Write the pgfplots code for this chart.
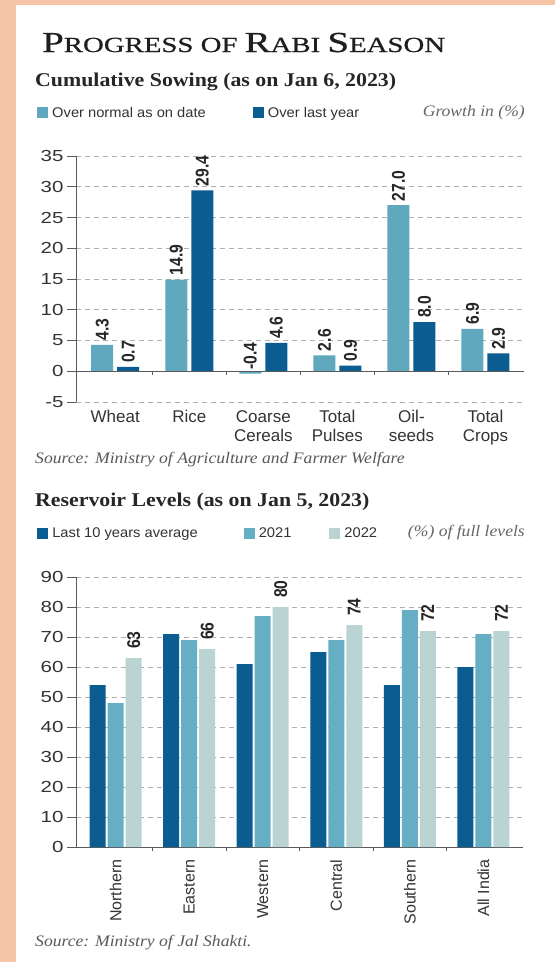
\documentclass[border=0pt]{standalone}
\usepackage{fontspec}
\usepackage{pgfplots}
\pgfplotsset{compat=1.18}
\setmainfont{Liberation Serif}
\newfontfamily\sansf{Liberation Sans}
\newfontfamily\legf[FakeStretch=1.05]{Liberation Sans}
\newfontfamily\tickf[FakeStretch=1.28]{Liberation Sans}
\newfontfamily\condf[FakeStretch=0.85]{Liberation Sans}
\newfontfamily\titlef[FakeStretch=1.34, FakeBold=0.8]{Liberation Serif}
\newfontfamily\subf[FakeStretch=1.12]{Liberation Serif}
\newfontfamily\srcf[FakeStretch=1.1]{Liberation Serif}
\definecolor{peach}{HTML}{F6C4A6}
\definecolor{lteal}{HTML}{5FA8BD}
\definecolor{dblue}{HTML}{0B5C91}
\definecolor{mteal}{HTML}{66AEC3}
\definecolor{pale}{HTML}{BAD4D4}
\definecolor{txt}{HTML}{333333}
\definecolor{axgray}{HTML}{5A5A5A}
\definecolor{gridgray}{HTML}{B0B0B0}

\pgfplotstableread{
x normal last
0 4.3 0.7
1 14.9 29.4
2 -0.4 4.6
3 2.6 0.9
4 27.0 8.0
5 6.9 2.9
}\sowing

\pgfplotstableread{
x avg y2021 y2022
0 54 48 63
1 71 69 66
2 61 77 80
3 65 69 74
4 54 79 72
5 60 71 72
}\reservoir

\pgfplotsset{
  commonax/.style={
    scale only axis, enlargelimits=false,
    axis y line*=left, axis x line*=bottom,
    axis line style={-},
    y axis line style={draw=axgray, line width=0.9pt},
    tick align=outside, major tick length=9pt, minor tick length=4pt,
    major y tick style={draw=axgray, line width=0.9pt},
    major x tick style={draw=none},
    ymajorgrids,
    major grid style={dash pattern=on 5pt off 4pt, draw=gridgray, line width=0.8pt},
    /pgf/number format/assume math mode=true,
    yticklabel style={font=\tickf\fontsize{16}{16}\selectfont, text=txt},
    xticklabel style={font=\sansf\fontsize{17}{19}\selectfont, text=txt},
    legend style={draw=none, fill=none, inner sep=0pt, font=\legf\fontsize{14}{14}\selectfont, text=txt,
      /tikz/every odd column/.append style={column sep=2pt}},
  },
  sqlegend/.style={
    legend image code/.code={\fill[##1, draw=none] (0pt,-5.5pt) rectangle (11pt,5.5pt);},
  }
}

\begin{document}
\begin{tikzpicture}
\fill[peach] (0pt,0pt) rectangle (555pt,-962pt);
\fill[white] (16pt,-5pt) rectangle (555pt,-962pt);
\useasboundingbox (0pt,0pt) rectangle (555pt,-962pt);

\node[anchor=base west, inner sep=0pt, text=black!88] at (42pt,-52pt)
 {\titlef{\fontsize{29}{29}\selectfont P}{\fontsize{21.5}{21}\selectfont ROGRESS OF }{\fontsize{29}{29}\selectfont R}{\fontsize{21.5}{21}\selectfont ABI }{\fontsize{29}{29}\selectfont S}{\fontsize{21.5}{21}\selectfont EASON}};

\node[anchor=base west, inner sep=0pt, text=black!85] at (35pt,-86pt)
 {\subf\fontsize{19.5}{19}\selectfont\bfseries Cumulative Sowing (as on Jan 6, 2023)};
\node[anchor=east, inner sep=0pt, text=black!60] at (525pt,-113pt)
 {\srcf\fontsize{16}{16}\selectfont\itshape Growth in (\%)};

\begin{axis}[commonax,
  at={(76pt,-402pt)}, anchor=south west,
  width=448pt, height=246pt,
  xmin=-0.53, xmax=5.52, ymin=-5, ymax=35,
  ytick={-5,0,5,10,15,20,25,30,35},
  x axis line style={draw=none},
  xtick={0,1,2,3,4,5},
  xticklabels={Wheat, Rice, {Coarse\\Cereals}, {Total\\Pulses}, {Oil-\\seeds}, {Total\\Crops}},
  xticklabel style={align=center, yshift=4pt},
  ybar=4pt, bar width=22pt, sqlegend,
  nodes near coords={\pgfmathprintnumber[fixed, fixed zerofill, precision=1, assume math mode=true]{\pgfplotspointmeta}},
  every node near coord/.append style={rotate=90, anchor=west, inner xsep=4pt, inner ysep=0pt,
     font=\condf\bfseries\fontsize{18.5}{18}\selectfont, text=black!85},
  legend columns=2,
  legend style={at={(-0.087,1.176)}, anchor=west,
    /tikz/every even column/.append style={column sep=45pt}},
]
\addplot[fill=lteal, draw=none] table[x=x, y=normal] {\sowing};
\addplot[fill=dblue, draw=none] table[x=x, y=last] {\sowing};
\legend{Over normal as on date, Over last year}
\draw[axgray, line width=0.9pt] (axis cs:-0.53,0) -- (axis cs:5.52,0);
\pgfplotsinvokeforeach{0.5,1.5,2.5,3.5,4.5}{\draw[axgray, line width=0.9pt] (axis cs:#1,0) -- ++(0pt,-4pt);}
\end{axis}

\node[anchor=west, inner sep=0pt, text=black!65] at (35pt,-460pt)
 {\srcf\fontsize{16}{16}\selectfont\itshape Source: Ministry of Agriculture and Farmer Welfare};

\node[anchor=base west, inner sep=0pt, text=black!85] at (35pt,-506pt)
 {\subf\fontsize{19.5}{19}\selectfont\bfseries Reservoir Levels (as on Jan 5, 2023)};
\node[anchor=east, inner sep=0pt, text=black!60] at (525pt,-533pt)
 {\srcf\fontsize{16}{16}\selectfont\itshape (\%) of full levels};

\begin{axis}[commonax,
  at={(76pt,-847pt)}, anchor=south west,
  width=447pt, height=270pt,
  xmin=-0.54, xmax=5.54, ymin=0, ymax=90,
  ytick={0,10,...,90},
  x axis line style={draw=axgray, line width=0.9pt},
  xtick={0,1,2,3,4,5},
  minor xtick={0.5,1.5,2.5,3.5,4.5},
  minor x tick style={draw=axgray, line width=0.9pt},
  xticklabels={Northern, Eastern, Western, Central, Southern, All India},
  xticklabel style={rotate=90, anchor=east, font=\sansf\fontsize{16}{16}\selectfont},
  ybar=2pt, bar width=16pt, sqlegend,
  legend columns=3,
  legend style={at={(-0.087,1.163)}, anchor=west,
    /tikz/every even column/.append style={column sep=36pt}},
]
\addplot[fill=dblue, draw=none] table[x=x, y=avg] {\reservoir};
\addplot[fill=mteal, draw=none] table[x=x, y=y2021] {\reservoir};
\addplot[fill=pale, draw=none,
  nodes near coords={\pgfmathprintnumber[assume math mode=true]{\pgfplotspointmeta}},
  every node near coord/.append style={rotate=90, anchor=west, inner xsep=9pt, inner ysep=0pt,
     font=\condf\bfseries\fontsize{18.5}{18}\selectfont, text=black!85}]
  table[x=x, y=y2022] {\reservoir};
\legend{Last 10 years average\hspace*{8pt}, 2021, 2022}
\end{axis}

\node[anchor=west, inner sep=0pt, text=black!65] at (35pt,-943pt)
 {\srcf\fontsize{16}{16}\selectfont\itshape Source: Ministry of Jal Shakti.};
\end{tikzpicture}
\end{document}
